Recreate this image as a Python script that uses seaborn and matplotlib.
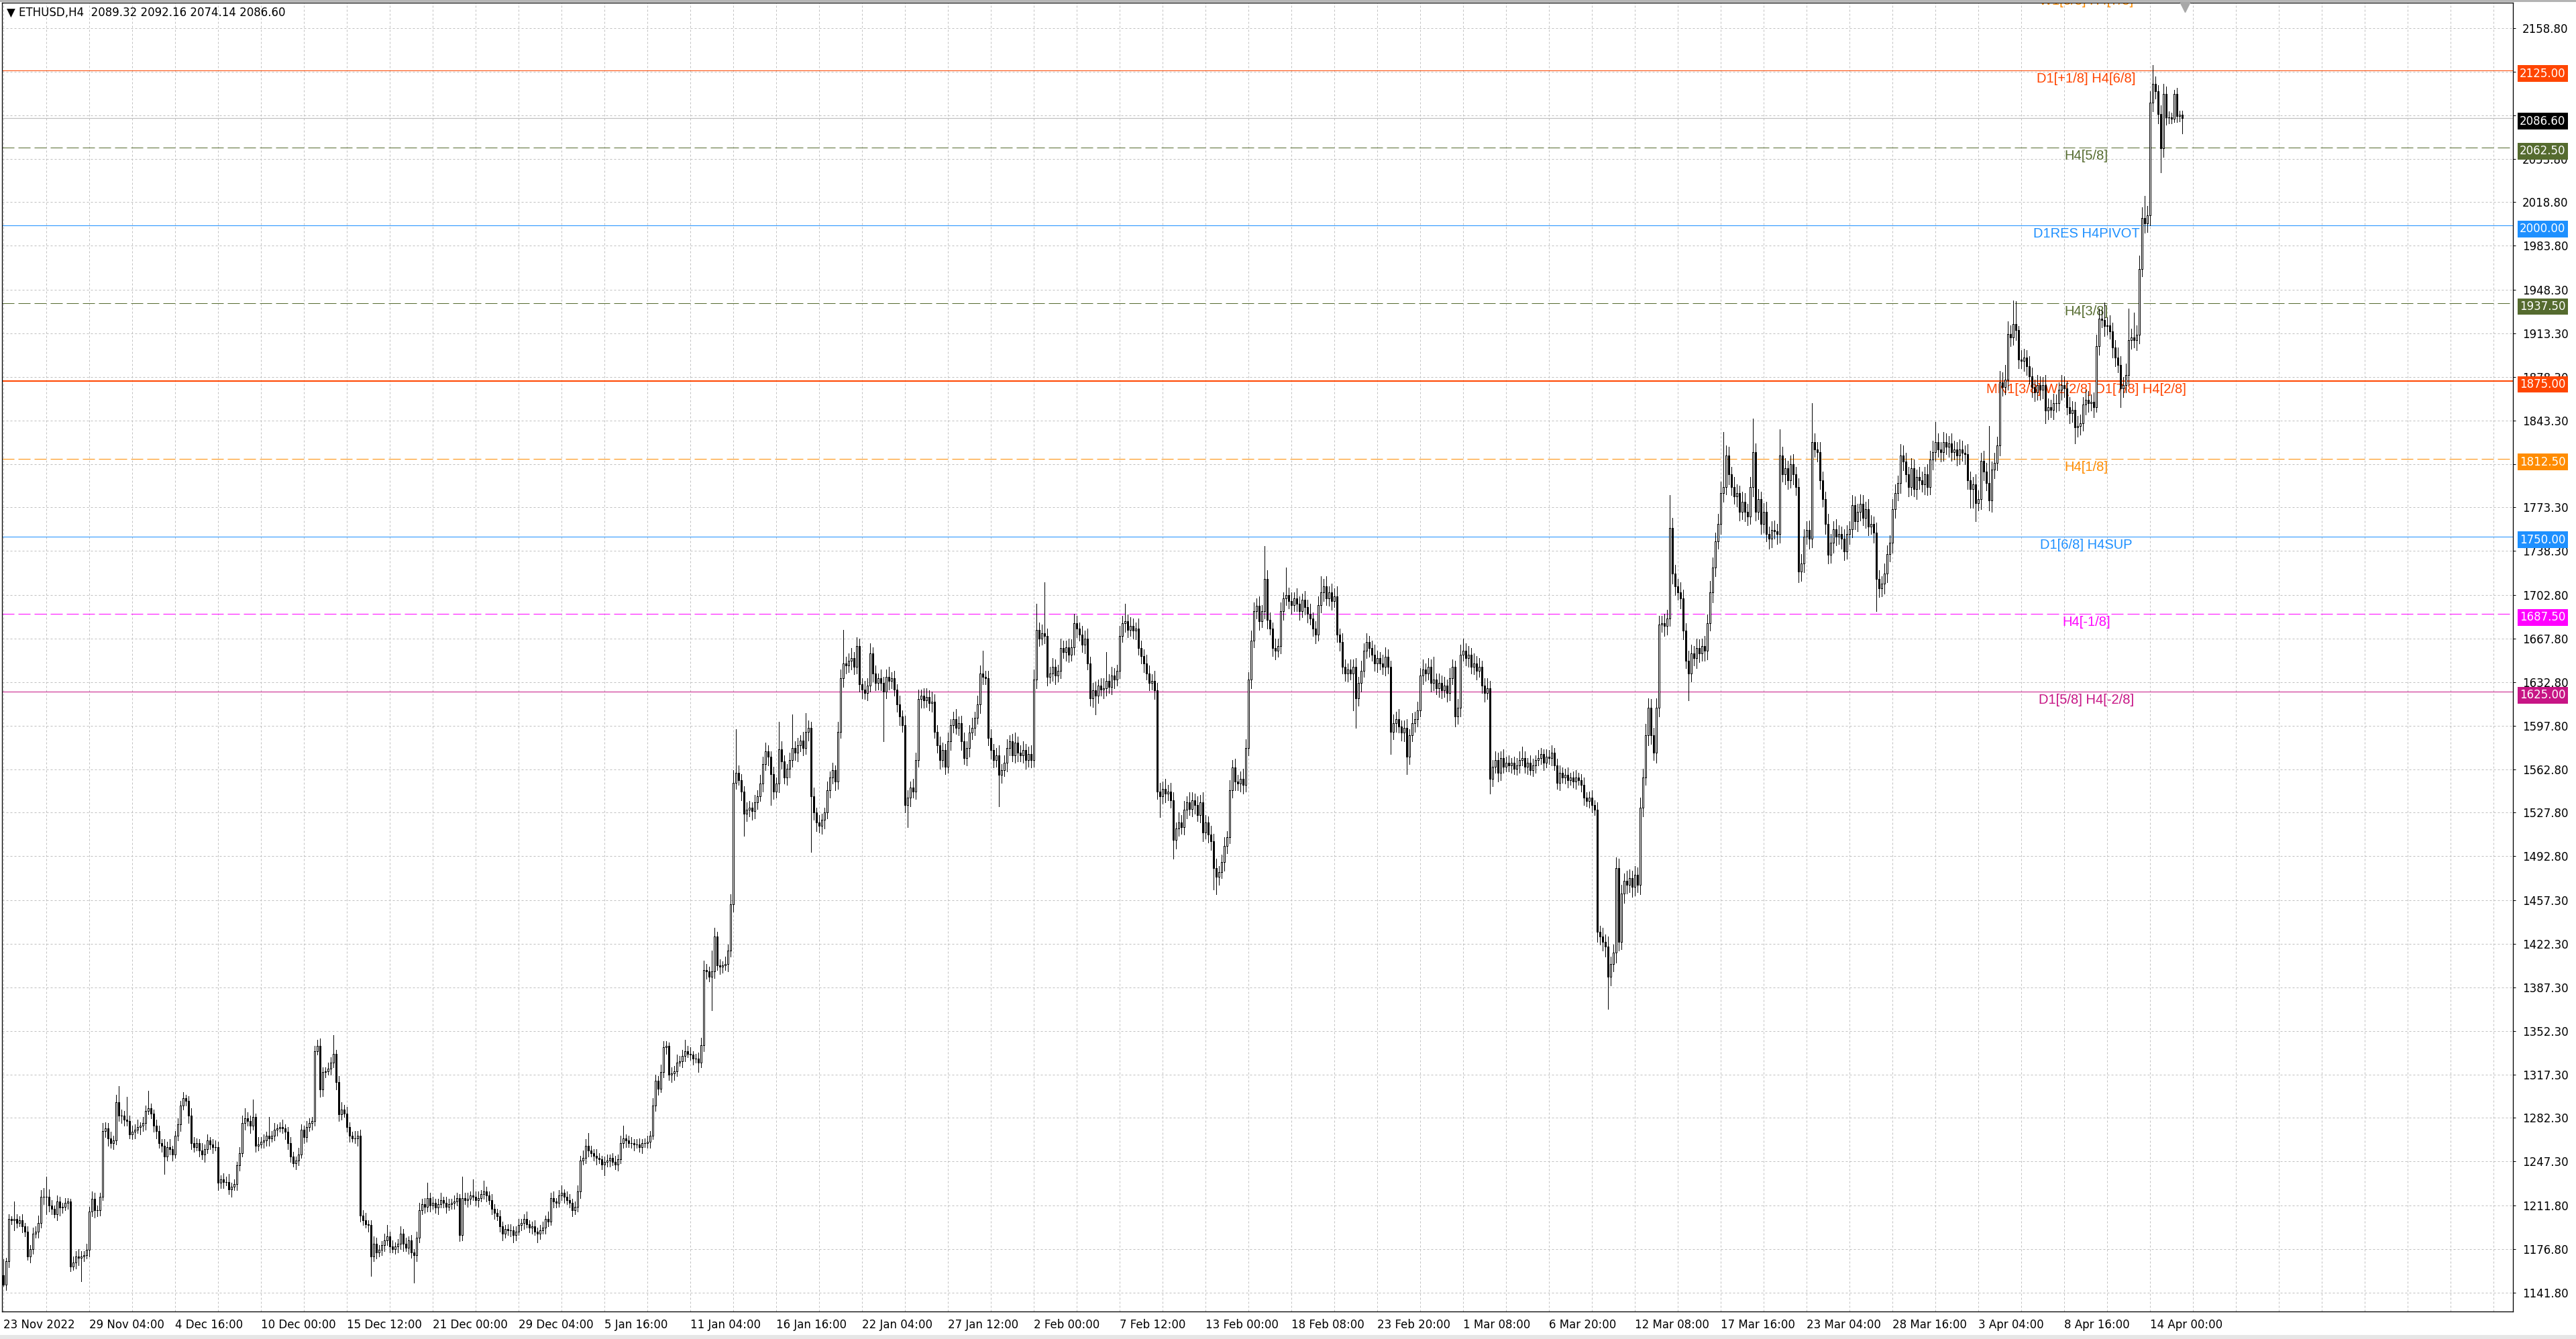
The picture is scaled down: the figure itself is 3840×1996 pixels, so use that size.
import numpy as np
import pandas as pd
import matplotlib
matplotlib.use("Agg")
import matplotlib.pyplot as plt
import matplotlib.transforms as mtransforms
import seaborn as sns

# ETHUSD H4 candles (open of each bar = previous close)
first_open = 1155.6
closes = [
    1148, 1167, 1201, 1200, 1201, 1198, 1200, 1195, 1191, 1171, 1177, 1189, 1191, 1198, 1219, 1219,
    1219, 1212, 1209, 1205, 1215, 1210, 1211, 1214, 1215, 1163, 1166, 1171, 1170, 1171, 1172, 1176,
    1207, 1217, 1208, 1208, 1219, 1272, 1274, 1266, 1262, 1264, 1295, 1284, 1284, 1281, 1280, 1269,
    1271, 1273, 1275, 1276, 1278, 1288, 1290, 1286, 1276, 1272, 1262, 1260, 1251, 1259, 1257, 1253,
    1268, 1277, 1292, 1298, 1296, 1284, 1262, 1259, 1262, 1256, 1253, 1257, 1264, 1261, 1259, 1259,
    1230, 1233, 1231, 1231, 1225, 1227, 1229, 1244, 1254, 1278, 1282, 1280, 1276, 1283, 1260, 1261,
    1263, 1264, 1268, 1266, 1268, 1273, 1274, 1275, 1274, 1271, 1262, 1251, 1246, 1248, 1253, 1273,
    1267, 1275, 1278, 1280, 1336, 1340, 1305, 1319, 1320, 1322, 1327, 1334, 1311, 1285, 1289, 1286,
    1275, 1268, 1266, 1266, 1268, 1204, 1200, 1197, 1196, 1171, 1181, 1174, 1176, 1180, 1184, 1187,
    1179, 1177, 1179, 1181, 1189, 1181, 1178, 1184, 1174, 1172, 1186, 1208, 1213, 1211, 1218, 1212,
    1214, 1210, 1213, 1216, 1214, 1211, 1213, 1214, 1215, 1218, 1188, 1218, 1216, 1217, 1220, 1219,
    1216, 1218, 1221, 1223, 1220, 1216, 1209, 1206, 1203, 1195, 1189, 1193, 1192, 1192, 1188, 1191,
    1196, 1198, 1201, 1197, 1194, 1195, 1191, 1189, 1192, 1194, 1201, 1199, 1218, 1215, 1214, 1220,
    1222, 1219, 1216, 1214, 1208, 1211, 1223, 1248, 1250, 1260, 1256, 1254, 1252, 1250, 1249, 1245,
    1247, 1248, 1250, 1247, 1245, 1249, 1262, 1266, 1264, 1262, 1262, 1261, 1261, 1259, 1262, 1262,
    1263, 1268, 1292, 1312, 1306, 1319, 1339, 1340, 1317, 1318, 1320, 1327, 1328, 1332, 1336, 1334,
    1333, 1330, 1330, 1327, 1341, 1401, 1400, 1396, 1400, 1428, 1405, 1404, 1405, 1406, 1417, 1454,
    1552, 1560, 1554, 1545, 1527, 1530, 1532, 1529, 1536, 1541, 1551, 1567, 1577, 1573, 1559, 1545,
    1551, 1579, 1569, 1556, 1563, 1570, 1580, 1576, 1582, 1586, 1580, 1593, 1596, 1541, 1528, 1520,
    1517, 1522, 1528, 1546, 1556, 1562, 1553, 1593, 1636, 1648, 1646, 1650, 1652, 1645, 1662, 1631,
    1627, 1624, 1630, 1656, 1640, 1632, 1636, 1632, 1625, 1637, 1634, 1636, 1627, 1615, 1605, 1598,
    1534, 1540, 1548, 1545, 1570, 1619, 1622, 1618, 1621, 1616, 1617, 1593, 1582, 1570, 1578, 1565,
    1585, 1598, 1603, 1596, 1600, 1585, 1572, 1580, 1592, 1596, 1604, 1615, 1640, 1637, 1636, 1588,
    1578, 1570, 1574, 1558, 1562, 1568, 1580, 1585, 1574, 1584, 1576, 1574, 1578, 1570, 1575, 1570,
    1635, 1675, 1668, 1672, 1670, 1637, 1640, 1645, 1638, 1642, 1660, 1657, 1661, 1655, 1661, 1680,
    1676, 1671, 1663, 1668, 1648, 1620, 1626, 1622, 1630, 1627, 1628, 1634, 1629, 1638, 1635, 1642,
    1670, 1680, 1682, 1675, 1678, 1674, 1676, 1660, 1654, 1648, 1640, 1632, 1634, 1626, 1545, 1541,
    1547, 1543, 1545, 1538, 1506, 1515, 1520, 1516, 1530, 1536, 1531, 1538, 1534, 1526, 1536, 1512,
    1520, 1510, 1505, 1483, 1476, 1480, 1488, 1501, 1508, 1546, 1564, 1553, 1551, 1555, 1550, 1580,
    1635, 1666, 1690, 1694, 1682, 1690, 1716, 1683, 1676, 1660, 1658, 1662, 1690, 1700, 1703, 1698,
    1695, 1700, 1696, 1690, 1699, 1693, 1688, 1684, 1676, 1671, 1695, 1705, 1710, 1700, 1705, 1698,
    1702, 1671, 1665, 1645, 1640, 1643, 1640, 1645, 1620, 1632, 1642, 1658, 1665, 1660, 1655, 1648,
    1652, 1648, 1645, 1653, 1645, 1593, 1600, 1603, 1597, 1592, 1596, 1573, 1590, 1600, 1603, 1610,
    1638, 1643, 1640, 1645, 1632, 1635, 1628, 1632, 1626, 1630, 1624, 1636, 1645, 1605, 1612, 1655,
    1658, 1652, 1655, 1645, 1648, 1642, 1645, 1630, 1624, 1628, 1555, 1565, 1570, 1560, 1572, 1565,
    1568, 1566, 1568, 1563, 1566, 1570, 1572, 1565, 1568, 1562, 1566, 1570, 1572, 1575, 1568, 1573,
    1572, 1576, 1566, 1552, 1560, 1556, 1558, 1554, 1556, 1553, 1556, 1554, 1550, 1540, 1537, 1540,
    1534, 1530, 1432, 1428, 1424, 1420, 1396, 1406, 1415, 1483, 1424, 1463, 1473, 1470, 1475, 1468,
    1478, 1470, 1532, 1556, 1590, 1612, 1590, 1576, 1612, 1679, 1680, 1678, 1684, 1757, 1720, 1710,
    1705, 1700, 1674, 1650, 1640, 1656, 1652, 1660, 1656, 1662, 1658, 1680, 1705, 1725, 1746, 1760,
    1785, 1790, 1815, 1800, 1790, 1782, 1785, 1770, 1778, 1770, 1766, 1790, 1818, 1770, 1780, 1760,
    1770, 1752, 1748, 1755, 1754, 1752, 1815, 1800, 1805, 1795, 1808, 1800, 1790, 1722, 1728, 1750,
    1755, 1748, 1826, 1820, 1818, 1795, 1780, 1760, 1735, 1745, 1756, 1750, 1752, 1748, 1738, 1752,
    1756, 1775, 1762, 1770, 1776, 1765, 1772, 1758, 1760, 1753, 1716, 1708, 1712, 1720, 1736, 1745,
    1772, 1785, 1793, 1815, 1810, 1800, 1790, 1805, 1788, 1798, 1795, 1792, 1800, 1790, 1812, 1818,
    1826, 1820, 1818, 1826, 1822, 1825, 1818, 1820, 1815, 1820, 1817, 1816, 1795, 1788, 1792, 1777,
    1780, 1811, 1802, 1793, 1779, 1804, 1809, 1823, 1874, 1870, 1876, 1913, 1910, 1921, 1916, 1892,
    1891, 1894, 1887, 1879, 1870, 1866, 1872, 1868, 1872, 1851, 1854, 1852, 1857, 1857, 1868, 1872,
    1869, 1854, 1849, 1852, 1838, 1839, 1841, 1856, 1860, 1857, 1858, 1854, 1903, 1925, 1924, 1919,
    1920, 1915, 1902, 1894, 1888, 1869, 1872, 1880, 1908, 1910, 1908, 1912, 1965, 2006, 2002, 2008,
    2099, 2114, 2108, 2090, 2062, 2106, 2087, 2087, 2086, 2106, 2088, 2089.32, 2086.6,
]
# wick lengths above the body / below the body
upper_wick = [
    13, 3, 4, 2, 14, 4, 3, 5, 3, 4, 3, 5, 4, 6, 5, 7,
    16, 6, 4, 3, 5, 4, 3, 4, 3, 2, 5, 4, 6, 4, 3, 5,
    4, 6, 5, 4, 3, 6, 5, 4, 5, 4, 6, 13, 5, 4, 18, 4,
    5, 4, 6, 3, 5, 4, 14, 4, 3, 5, 4, 3, 5, 4, 6, 3,
    4, 5, 4, 5, 3, 4, 6, 5, 4, 3, 6, 4, 5, 3, 4, 5,
    4, 3, 5, 4, 6, 3, 4, 3, 5, 6, 8, 5, 4, 14, 3, 6,
    4, 5, 3, 15, 4, 5, 3, 4, 6, 3, 4, 5, 4, 3, 5, 4,
    3, 5, 4, 3, 4, 5, 6, 4, 3, 5, 4, 15, 3, 5, 6, 4,
    5, 4, 3, 6, 4, 5, 4, 6, 3, 4, 6, 5, 4, 3, 5, 9,
    4, 5, 3, 4, 6, 4, 5, 3, 4, 3, 5, 6, 4, 5, 12, 4,
    5, 3, 4, 6, 3, 5, 4, 3, 5, 4, 3, 17, 4, 5, 3, 13,
    4, 5, 3, 9, 4, 3, 5, 4, 3, 5, 4, 3, 4, 5, 3, 4,
    5, 3, 4, 6, 3, 4, 5, 3, 4, 5, 3, 6, 4, 5, 3, 4,
    6, 3, 4, 5, 3, 4, 5, 4, 6, 5, 10, 4, 3, 5, 4, 3,
    4, 5, 3, 4, 5, 4, 6, 10, 3, 4, 5, 3, 4, 5, 3, 4,
    5, 4, 6, 5, 4, 6, 5, 4, 3, 5, 4, 6, 4, 5, 9, 4,
    5, 3, 4, 5, 6, 8, 5, 4, 17, 7, 4, 5, 3, 6, 5, 8,
    10, 35, 6, 5, 4, 6, 5, 4, 6, 5, 7, 6, 7, 5, 4, 6,
    5, 22, 6, 5, 4, 6, 27, 5, 6, 4, 7, 15, 6, 5, 7, 4,
    6, 5, 4, 7, 5, 6, 4, 8, 7, 27, 5, 6, 8, 5, 7, 6,
    5, 7, 6, 8, 5, 6, 4, 7, 5, 6, 8, 5, 6, 4, 7, 5,
    8, 6, 5, 7, 6, 8, 5, 6, 7, 5, 8, 6, 5, 7, 6, 5,
    7, 5, 6, 8, 5, 6, 7, 5, 6, 8, 5, 7, 6, 18, 5, 6,
    7, 5, 6, 8, 5, 6, 7, 5, 6, 8, 5, 6, 7, 5, 6, 7,
    8, 21, 6, 7, 41, 6, 5, 7, 6, 5, 8, 6, 5, 7, 6, 8,
    6, 5, 7, 6, 8, 5, 6, 7, 5, 6, 8, 23, 5, 7, 6, 5,
    8, 6, 14, 5, 7, 6, 5, 8, 6, 5, 7, 6, 5, 8, 6, 7,
    6, 8, 5, 7, 6, 5, 8, 6, 7, 5, 8, 6, 5, 7, 6, 8,
    6, 5, 7, 6, 8, 5, 6, 7, 5, 8, 6, 7, 5, 6, 8, 7,
    6, 8, 7, 6, 8, 5, 26, 7, 6, 5, 8, 6, 7, 5, 22, 6,
    7, 5, 8, 6, 5, 7, 6, 8, 5, 6, 7, 13, 6, 8, 5, 7,
    6, 8, 5, 7, 6, 5, 8, 6, 7, 5, 8, 6, 7, 5, 6, 8,
    6, 5, 7, 8, 6, 5, 7, 6, 8, 5, 6, 7, 5, 8, 6, 7,
    6, 8, 5, 7, 6, 18, 5, 8, 6, 7, 5, 8, 6, 5, 7, 8,
    10, 6, 7, 5, 8, 6, 7, 5, 6, 8, 6, 5, 7, 6, 5, 7,
    5, 6, 4, 5, 6, 7, 9, 5, 4, 6, 5, 4, 6, 5, 4, 6,
    5, 6, 4, 5, 6, 4, 5, 6, 4, 5, 6, 4, 5, 6, 4, 5,
    6, 4, 6, 5, 7, 6, 8, 6, 7, 9, 8, 7, 6, 8, 7, 6,
    7, 6, 8, 7, 9, 8, 7, 6, 8, 7, 6, 8, 7, 26, 8, 7,
    6, 8, 7, 6, 8, 7, 6, 8, 7, 6, 8, 7, 9, 8, 7, 8,
    9, 44, 8, 7, 6, 8, 7, 6, 8, 7, 6, 8, 27, 7, 8, 6,
    7, 8, 6, 7, 8, 6, 21, 7, 8, 6, 7, 8, 6, 7, 8, 6,
    7, 8, 31, 7, 6, 8, 7, 6, 8, 7, 6, 8, 7, 6, 8, 7,
    6, 8, 7, 6, 8, 7, 6, 8, 7, 6, 8, 7, 6, 8, 7, 6,
    8, 7, 6, 9, 8, 7, 6, 8, 7, 6, 8, 7, 6, 8, 7, 9,
    16, 7, 6, 8, 7, 6, 8, 7, 6, 8, 7, 6, 8, 7, 6, 8,
    7, 6, 8, 7, 46, 6, 8, 7, 9, 8, 12, 10, 7, 19, 18, 3,
    8, 7, 6, 8, 7, 6, 8, 7, 6, 8, 7, 6, 8, 7, 6, 8,
    7, 6, 8, 7, 6, 8, 7, 6, 8, 7, 6, 8, 9, 8, 7, 14,
    6, 8, 7, 6, 8, 7, 6, 9, 25, 7, 20, 8, 11, 9, 18, 8,
    9, 15, 6, 5, 7, 8, 6, 5, 4, 3, 5, 3, 2.84,
]
lower_wick = [
    1, 4, 5, 3, 8, 4, 3, 5, 4, 3, 5, 4, 3, 5, 4, 6,
    14, 5, 4, 3, 5, 6, 4, 3, 5, 4, 3, 5, 6, 19, 4, 3,
    5, 4, 6, 5, 4, 3, 5, 6, 4, 5, 3, 4, 6, 5, 4, 3,
    4, 5, 3, 6, 4, 5, 3, 4, 5, 6, 4, 5, 14, 3, 4, 5,
    3, 4, 5, 3, 4, 6, 5, 4, 3, 5, 4, 6, 3, 4, 5, 3,
    6, 4, 5, 3, 4, 6, 3, 5, 4, 3, 5, 4, 6, 3, 5, 4,
    3, 5, 4, 6, 3, 4, 5, 3, 4, 6, 5, 4, 3, 5, 4, 3,
    5, 4, 3, 5, 4, 3, 6, 5, 4, 3, 5, 4, 6, 5, 4, 3,
    4, 5, 3, 4, 6, 5, 4, 3, 5, 16, 4, 5, 3, 4, 5, 4,
    5, 3, 4, 5, 4, 6, 3, 5, 4, 22, 5, 4, 3, 5, 4, 5,
    3, 4, 5, 3, 4, 5, 3, 4, 5, 3, 5, 4, 3, 5, 4, 3,
    4, 5, 3, 4, 5, 3, 4, 5, 3, 4, 5, 3, 4, 5, 6, 4,
    3, 4, 5, 3, 4, 5, 3, 7, 4, 3, 5, 4, 3, 5, 4, 3,
    4, 5, 3, 4, 5, 3, 4, 5, 3, 4, 5, 3, 4, 5, 3, 4,
    9, 4, 5, 3, 4, 5, 3, 4, 5, 3, 4, 5, 3, 4, 5, 3,
    4, 5, 3, 4, 5, 3, 4, 5, 4, 6, 5, 4, 3, 5, 4, 3,
    4, 5, 3, 8, 4, 5, 6, 4, 27, 5, 4, 6, 5, 4, 6, 5,
    6, 5, 4, 7, 18, 6, 5, 7, 6, 5, 4, 6, 5, 7, 25, 6,
    5, 7, 6, 5, 6, 7, 5, 6, 7, 5, 6, 5, 7, 45, 6, 7,
    5, 6, 7, 5, 6, 5, 7, 6, 5, 7, 6, 5, 7, 6, 5, 6,
    7, 5, 6, 5, 7, 6, 5, 6, 40, 5, 7, 6, 5, 6, 7, 5,
    6, 18, 7, 5, 6, 5, 7, 6, 5, 6, 7, 5, 6, 7, 5, 6,
    5, 7, 6, 5, 6, 7, 5, 6, 7, 5, 6, 5, 7, 6, 5, 6,
    7, 6, 5, 25, 6, 5, 7, 6, 5, 6, 7, 5, 6, 7, 5, 6,
    5, 7, 6, 5, 6, 7, 5, 6, 7, 5, 6, 5, 7, 6, 5, 6,
    7, 5, 6, 7, 5, 6, 7, 15, 6, 5, 7, 6, 5, 6, 7, 5,
    6, 5, 7, 6, 5, 6, 7, 5, 6, 7, 5, 6, 5, 7, 6, 17,
    6, 7, 5, 6, 15, 7, 6, 5, 6, 7, 5, 6, 7, 5, 6, 7,
    5, 6, 7, 17, 14, 6, 5, 7, 6, 5, 6, 7, 5, 6, 7, 5,
    6, 7, 5, 6, 7, 5, 6, 7, 5, 6, 7, 5, 6, 7, 5, 6,
    7, 5, 6, 7, 5, 6, 7, 5, 6, 7, 5, 6, 7, 5, 6, 7,
    5, 6, 7, 5, 6, 7, 5, 30, 24, 6, 7, 5, 6, 7, 5, 6,
    7, 5, 6, 7, 5, 18, 6, 7, 5, 6, 7, 14, 6, 5, 7, 6,
    5, 7, 6, 5, 7, 6, 5, 7, 6, 5, 7, 6, 5, 8, 6, 7,
    5, 6, 7, 5, 6, 7, 5, 6, 7, 5, 12, 6, 5, 7, 6, 5,
    4, 5, 6, 4, 5, 6, 4, 5, 6, 4, 5, 6, 4, 5, 6, 4,
    5, 6, 4, 5, 6, 4, 5, 6, 4, 5, 6, 4, 5, 6, 4, 5,
    6, 4, 8, 6, 7, 8, 26, 7, 6, 8, 7, 6, 8, 7, 6, 8,
    7, 6, 8, 7, 6, 8, 7, 6, 8, 7, 6, 8, 7, 6, 8, 7,
    6, 8, 7, 6, 22, 7, 6, 8, 7, 6, 8, 7, 6, 8, 7, 6,
    8, 7, 6, 8, 7, 6, 8, 7, 6, 8, 7, 6, 8, 7, 6, 8,
    7, 6, 8, 7, 6, 8, 7, 6, 8, 7, 6, 8, 7, 9, 8, 7,
    6, 8, 7, 6, 8, 7, 6, 8, 7, 6, 8, 7, 6, 8, 7, 6,
    8, 7, 6, 8, 7, 6, 8, 7, 6, 8, 26, 7, 6, 8, 7, 6,
    8, 7, 6, 8, 7, 6, 8, 7, 6, 8, 7, 6, 8, 7, 6, 8,
    7, 6, 8, 7, 6, 8, 7, 6, 8, 7, 6, 8, 7, 15, 15, 15,
    6, 8, 7, 6, 8, 9, 7, 6, 8, 7, 6, 8, 7, 6, 8, 7,
    6, 8, 7, 6, 8, 7, 6, 8, 7, 10, 7, 6, 8, 7, 6, 8,
    7, 6, 8, 7, 13, 8, 7, 6, 8, 7, 6, 8, 4, 7, 6, 8,
    7, 6, 8, 7, 6, 15, 7, 6, 8, 7, 6, 8, 7, 6, 8, 7,
    8, 7, 6, 8, 19, 7, 6, 5, 4, 3, 5, 4, 12.46,
]

time_labels = [
    "23 Nov 2022", "29 Nov 04:00", "4 Dec 16:00", "10 Dec 00:00", "15 Dec 12:00",
    "21 Dec 00:00", "29 Dec 04:00", "5 Jan 16:00", "11 Jan 04:00", "16 Jan 16:00",
    "22 Jan 04:00", "27 Jan 12:00", "2 Feb 00:00", "7 Feb 12:00", "13 Feb 00:00",
    "18 Feb 08:00", "23 Feb 20:00", "1 Mar 08:00", "6 Mar 20:00", "12 Mar 08:00",
    "17 Mar 16:00", "23 Mar 04:00", "28 Mar 16:00", "3 Apr 04:00", "8 Apr 16:00",
    "14 Apr 00:00",
]
label_step = 32   # bars between two time labels
price_ticks = [
    2158.8, 2123.8, 2088.8, 2053.8, 2018.8, 1983.8, 1948.3, 1913.3, 1878.3, 1843.3,
    1808.3, 1773.3, 1738.3, 1702.8, 1667.8, 1632.8, 1597.8, 1562.8, 1527.8, 1492.8,
    1457.3, 1422.3, 1387.3, 1352.3, 1317.3, 1282.3, 1247.3, 1211.8, 1176.8, 1141.8,
]
# scale labels the terminal hides behind the price tags
hidden_ticks = [2123.8, 2088.8, 1808.3]

# Murrey math levels drawn on the chart
level_prices = [2187.5, 2125.0, 2062.5, 2000.0, 1937.5, 1875.0, 1812.5, 1750.0, 1687.5, 1625.0]
level_names = ["W1[3/8] H4[7/8]", "D1[+1/8] H4[6/8]", "H4[5/8]", "D1RES H4PIVOT", "H4[3/8]",
               "MN1[3/8] W1[2/8] D1[7/8] H4[2/8]", "H4[1/8]", "D1[6/8] H4SUP", "H4[-1/8]",
               "D1[5/8] H4[-2/8]"]
level_colors = ["#FF8C00", "#FF4500", "#556B2F", "#1E90FF", "#556B2F",
                "#FF4500", "#FF8C00", "#1E90FF", "#FF00FF", "#C71585"]
level_dashed = [True, False, True, False, True, False, True, False, True, False]
level_width = [1, 1, 1, 1, 1, 2, 1, 1, 1, 1]

n = min(len(closes), len(upper_wick), len(lower_wick))
df = pd.DataFrame({"close": closes[:n], "up": upper_wick[:n], "down": lower_wick[:n]})
df["open"] = [first_open] + list(df["close"].iloc[:-1])
df["high"] = np.maximum(df["open"], df["close"]) + df["up"]
df["low"] = np.minimum(df["open"], df["close"]) - df["down"]
df["x"] = np.arange(n)
bull = df[df["close"] >= df["open"]]
bear = df[df["close"] < df["open"]]

sns.set_theme(style="white")
plt.rcParams["font.family"] = ["DejaVu Sans"]

W, H = 3840, 1996
PX = 0.72  # one pixel in points at dpi 100
fig = plt.figure(figsize=(W / 100, H / 100), dpi=100)
fig.patch.set_facecolor("white")
ax = fig.add_axes([3 / W, 41 / H, (3746 - 3) / W, (1992 - 41) / H])
ax.set_facecolor("white")

ax.set_xlim(-0.5, 935.25)
ax.set_ylim(1126.6, 2179.3)

# grid and scales
ax.set_xticks(np.arange(0, 936, 16), minor=True)
ax.set_xticks(np.arange(len(time_labels)) * label_step)
ax.set_xticklabels(time_labels, ha="left")
ax.set_yticks(price_ticks)
ax.set_yticklabels(["" if v in hidden_ticks else f"{v:.2f}" for v in price_ticks])
ax.yaxis.tick_right()
ax.grid(True, which="both", color="#C0C0C0", linestyle=(0, (3, 3)), linewidth=PX)
ax.set_axisbelow(True)
ax.tick_params(axis="x", which="major", direction="out", length=3, width=PX, pad=5,
               labelsize=12, colors="black")
ax.tick_params(axis="x", which="minor", length=0)
ax.tick_params(axis="y", direction="out", length=3, width=PX, pad=7, labelsize=12,
               colors="black", right=True, left=False)
for sp in ax.spines.values():
    sp.set_color("black")
    sp.set_linewidth(PX * 1.3)

# level lines and their names
name_tr = mtransforms.offset_copy(
    mtransforms.blended_transform_factory(ax.transAxes, ax.transData),
    fig=fig, x=0, y=-3, units="dots")
for price, name, col, dashed, lw in zip(level_prices, level_names, level_colors,
                                        level_dashed, level_width):
    ls = (0, (18, 6)) if dashed else "solid"
    ax.axhline(price, color=col, linewidth=lw * PX, linestyle=ls, zorder=1.5)
    ax.text(0.8301, price, name, transform=name_tr, ha="center", va="top", color=col,
            fontsize=14.5, family=["Liberation Sans", "DejaVu Sans"], zorder=1.8, clip_on=True)

last = df.iloc[-1]
ax.axhline(last["close"], color="#C0C0C0", linewidth=PX * 1.2, zorder=1.4)

# candles
ax.vlines(df["x"], df["low"], df["high"], color="black", linewidth=PX, zorder=3,
          antialiased=False)
ax.bar(bull["x"], bull["close"] - bull["open"], bottom=bull["open"], width=0.55,
       facecolor="white", edgecolor="black", linewidth=PX, zorder=4, antialiased=False)
ax.bar(bear["x"], bear["open"] - bear["close"], bottom=bear["close"], width=0.55,
       facecolor="black", edgecolor="black", linewidth=PX, zorder=4, antialiased=False)

# chart shift marker
ax.plot([n], [0.9972], marker="v", markersize=13, color="#A8A8A8", linestyle="none",
        transform=mtransforms.blended_transform_factory(ax.transData, ax.transAxes),
        clip_on=False, zorder=6)

# price tags on the right scale
tag_tr = mtransforms.offset_copy(
    mtransforms.blended_transform_factory(ax.transAxes, ax.transData),
    fig=fig, x=0, y=-5, units="dots")
tag_prices = level_prices[1:] + [last["close"]]
tag_colors = level_colors[1:] + ["black"]
for price, col in zip(tag_prices, tag_colors):
    ax.text(1.0 + 10 / 3743, price, f"{price:.2f}", transform=tag_tr, ha="left", va="center",
            color="white", fontsize=12, zorder=10, clip_on=False,
            bbox=dict(boxstyle="square,pad=0.2", facecolor=col, edgecolor="none"))

# header with the last bar's OHLC
fig.text(10 / W, 1 - 19 / H,
         f"\u25bc ETHUSD,H4  {last['open']:.2f} {last['high']:.2f} {last['low']:.2f} {last['close']:.2f}",
         ha="left", va="center", fontsize=12, color="black")

fig.patches.append(plt.Rectangle((0, 0), 1, 6 / H, transform=fig.transFigure,
                                 facecolor="#E6E6E6", edgecolor="none"))
fig.patches.append(plt.Rectangle((0, 1 - 3 / H), 1, 3 / H, transform=fig.transFigure,
                                 facecolor="#B4B4B4", edgecolor="none"))

fig.savefig("out.png", dpi=100)
plt.close(fig)
